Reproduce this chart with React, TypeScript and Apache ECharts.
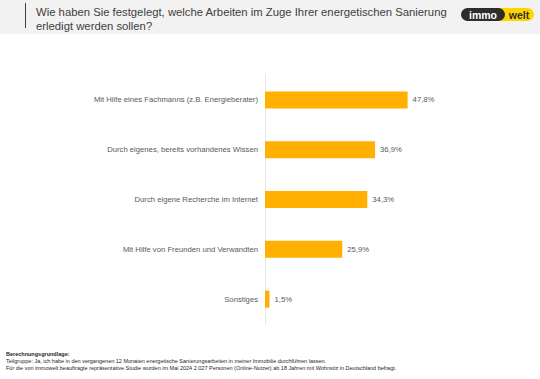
import React, { useEffect, useRef } from "react";
import * as echarts from "echarts";

const categories = [
  "Mit Hilfe eines Fachmanns (z.B. Energieberater)",
  "Durch eigenes, bereits vorhandenes Wissen",
  "Durch eigene Recherche im Internet",
  "Mit Hilfe von Freunden und Verwandten",
  "Sonstiges",
];
const values = [47.8, 36.9, 34.3, 25.9, 1.5];

const titleLines = [
  "Wie haben Sie festgelegt, welche Arbeiten im Zuge Ihrer energetischen Sanierung",
  "erledigt werden sollen?",
];
const footerTitle = "Berechnungsgrundlage:";
const footerLines = [
  "Teilgruppe: Ja, ich habe in den vergangenen 12 Monaten energetische Sanierungsarbeiten in meiner Immobilie durchführen lassen.",
  "Für die von immowelt beauftragte repräsentative Studie wurden im Mai 2024 2.027 Personen (Online-Nutzer) ab 18 Jahren mit Wohnsitz in Deutschland befragt.",
];

const FONT = "'Liberation Sans', Arial, sans-serif";

export default function App() {
  const ref = useRef<HTMLDivElement>(null);
  useEffect(() => {
    if (!ref.current) return;
    const chart = echarts.init(ref.current, null, { renderer: "svg" });
    chart.setOption({
      animation: false,
      backgroundColor: "#ffffff",
      textStyle: { fontFamily: FONT },
      grid: { left: 265, top: 75, width: 179, bottom: 55, containLabel: false },
      xAxis: {
        type: "value",
        min: 0,
        max: 60,
        show: false,
      },
      yAxis: {
        type: "category",
        inverse: true,
        data: categories,
        axisLine: { show: true, lineStyle: { color: "#e6e6e6", width: 1 } },
        axisTick: { show: false },
        axisLabel: { color: "#595959", fontSize: 7.7, margin: 7, fontFamily: FONT },
      },
      series: [
        {
          type: "bar",
          data: values,
          barWidth: 17,
          itemStyle: { color: "#FFB000" },
          label: {
            show: true,
            position: "right",
            distance: 5,
            color: "#595959",
            fontSize: 7.7,
            fontFamily: FONT,
            formatter: (p: any) => p.value.toFixed(1).replace(".", ",") + "%",
          },
        },
      ],
      graphic: [
        { type: "rect", left: 0, top: 0, shape: { width: 540, height: 34 }, style: { fill: "#f2f2f2" }, z: -10 },
        { type: "line", shape: { x1: 25.5, y1: 3, x2: 25.5, y2: 28 }, style: { stroke: "#404040", lineWidth: 1 } },
        {
          type: "text",
          x: 36,
          y: 12,
          style: { text: titleLines[0], font: `11.3px ${FONT}`, fill: "#404040", verticalAlign: "middle" },
        },
        {
          type: "text",
          x: 36,
          y: 26,
          style: { text: titleLines[1], font: `11.3px ${FONT}`, fill: "#404040", verticalAlign: "middle" },
        },
        { type: "rect", shape: { x: 494, y: 8, width: 40, height: 13, r: 6.5 }, style: { fill: "#FFD500" } },
        { type: "rect", shape: { x: 461, y: 8, width: 44, height: 13, r: 6.5 }, style: { fill: "#2d2d2d" } },
        {
          type: "text",
          x: 483,
          y: 14.5,
          style: { text: "immo", font: `bold 10.5px ${FONT}`, fill: "#ffffff", align: "center", verticalAlign: "middle" },
        },
        {
          type: "text",
          x: 519,
          y: 14.5,
          style: { text: "welt", font: `bold 10.5px ${FONT}`, fill: "#2d2d2d", align: "center", verticalAlign: "middle" },
        },
        {
          type: "text",
          x: 6,
          y: 354,
          style: { text: footerTitle, font: `bold 5.5px ${FONT}`, fill: "#262626", verticalAlign: "middle" },
        },
        {
          type: "text",
          x: 6,
          y: 361,
          style: { text: footerLines[0], font: `5.5px ${FONT}`, fill: "#262626", verticalAlign: "middle" },
        },
        {
          type: "text",
          x: 6,
          y: 367.5,
          style: { text: footerLines[1], font: `5.5px ${FONT}`, fill: "#262626", verticalAlign: "middle" },
        },
      ],
    });
    return () => chart.dispose();
  }, []);
  return <div ref={ref} style={{ position: "fixed", left: 0, top: 0, width: 540, height: 379 }} />;
}
